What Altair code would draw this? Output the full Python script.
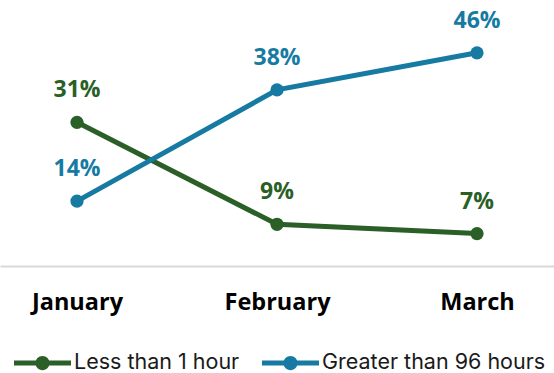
import altair as alt
import pandas as pd

months = ["January", "February", "March"]
less_1h = [31, 9, 7]
more_96h = [14, 38, 46]
series_names = ["Less than 1 hour", "Greater than 96 hours"]
colors = ["#2A5F27", "#167AA2"]

rows = []
for s, vals in zip(series_names, [less_1h, more_96h]):
    for m, v in zip(months, vals):
        rows.append({"month": m, "value": v, "series": s, "label": f"{v}%"})
df = pd.DataFrame(rows)

sym = ("M-1,-0.088 L1,-0.088 L1,0.088 L-1,0.088 Z "
       "M-0.25,0 A0.25,0.25 0 1,1 0.25,0 A0.25,0.25 0 1,1 -0.25,0 Z")

x = alt.X("month:N", sort=months, title=None,
          scale=alt.Scale(type="point", padding=0.385),
          axis=alt.Axis(labelAngle=0, labelFont="Open Sans", labelFontWeight="bold",
                        labelFontSize=23.5, labelColor="#000000", ticks=False,
                        domainColor="#d9d9d9", domainWidth=2, labelPadding=24.5,
                        grid=False))
y = alt.Y("value:Q", title=None, scale=alt.Scale(domain=[0, 57.4], nice=False, zero=True),
          axis=None)
color = alt.Color("series:N", sort=series_names,
                  scale=alt.Scale(domain=series_names, range=colors),
                  legend=alt.Legend(title=None, orient="none", direction="horizontal",
                                    legendX=14, legendY=334.5, symbolType=sym,
                                    symbolSize=3249, symbolStrokeWidth=0,
                                    labelFont="Inter", labelFontSize=21.5,
                                    labelColor="#1a1a1a", labelOffset=3,
                                    labelLimit=400,
                                    columnPadding=22, padding=0))

base = alt.Chart(df).encode(x=x, y=y, color=color)
lines = base.mark_line(strokeWidth=5)
points = base.mark_circle(size=175, opacity=1)
labels = base.mark_text(font="Open Sans", fontWeight="bold", fontSize=23,
                        dy=-25, baseline="alphabetic").encode(text="label:N")

chart = (lines + points + labels).properties(
    width=554, height=266,
    padding={"left": 0, "top": 0, "right": 0, "bottom": 107},
    autosize=alt.AutoSizeParams(type="none")
).configure_view(stroke=None)

chart.save("out.html", embed_options={"renderer": "svg", "actions": False})
